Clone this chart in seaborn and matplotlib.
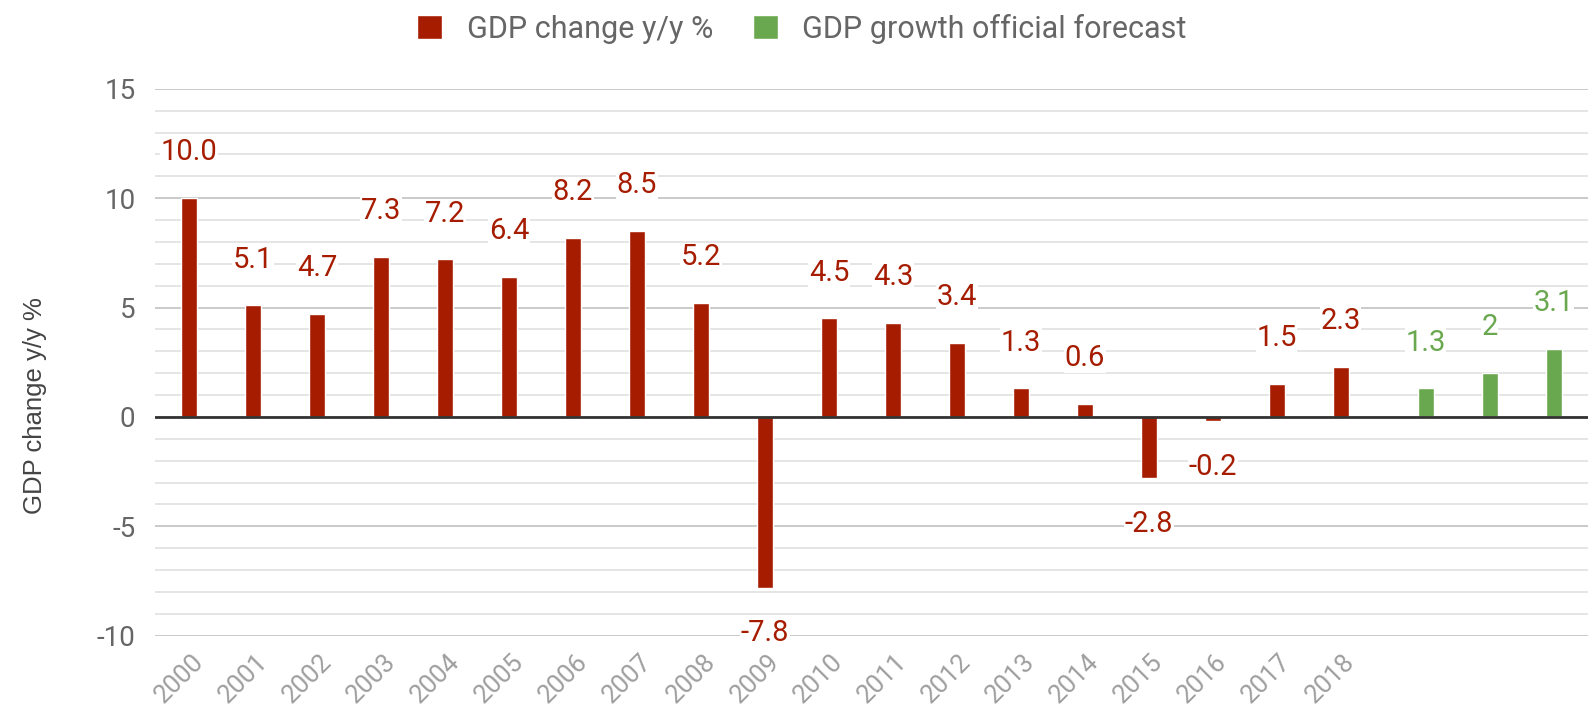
import pandas as pd
import matplotlib.pyplot as plt
import matplotlib.transforms as mtransforms
import seaborn as sns

# data
years = ["2000", "2001", "2002", "2003", "2004", "2005", "2006", "2007", "2008",
         "2009", "2010", "2011", "2012", "2013", "2014", "2015", "2016", "2017",
         "2018"]
gdp_change = [10.0, 5.1, 4.7, 7.3, 7.2, 6.4, 8.2, 8.5, 5.2,
              -7.8, 4.5, 4.3, 3.4, 1.3, 0.6, -2.8, -0.2, 1.5, 2.3]
forecast_keys = ["f1", "f2", "f3"]          # unlabelled forecast slots
forecast_values = [1.3, 2, 3.1]
tick_labels = years + ["", "", ""]

series_hist = "GDP change y/y %"
series_fc = "GDP growth official forecast"
red = "#a61c00"
green = "#6aa84f"

df = pd.concat([
    pd.DataFrame({"cat": years, "value": gdp_change, "series": series_hist}),
    pd.DataFrame({"cat": forecast_keys, "value": forecast_values, "series": series_fc}),
], ignore_index=True)
order = years + forecast_keys

sns.set_style("white")
plt.rcParams["font.family"] = ["Roboto", "DejaVu Sans"]
plt.rcParams["axes.unicode_minus"] = False

fig = plt.figure(figsize=(15.91, 7.14), dpi=100)
ax = fig.add_axes([0.0974, 0.1097, 0.9006, 0.7659])

sns.barplot(data=df, x="cat", y="value", hue="series", order=order,
            hue_order=[series_hist, series_fc], palette=[red, green],
            width=0.656, gap=0.24, dodge=True, saturation=1,
            errorbar=None, ax=ax)

# value labels above / below each bar
for cont, col, fmt in zip(ax.containers, [red, green], ["{:.1f}", "{:g}"]):
    texts = ax.bar_label(cont, fmt=fmt, padding=33, color=col, fontsize=21)
    for t in texts:
        t.set_va("center")
        t.set_bbox(dict(facecolor="white", edgecolor="none", pad=0.5))

ax.set_ylim(-10, 15)
ax.set_xlim(-0.7, 21.7)
ax.set_yticks(range(-10, 16, 5))
ax.set_yticks(range(-10, 16), minor=True)
ax.grid(axis="y", which="major", color="#c6c6c6", lw=1.3, zorder=0)
ax.grid(axis="y", which="minor", color="#e3e3e3", lw=1.3, zorder=0)
ax.set_axisbelow(True)
ax.axhline(0, color="#333333", lw=2, zorder=2)
for s in ax.spines.values():
    s.set_visible(False)

ax.set_xticks(range(len(order)))
ax.set_xticklabels(tick_labels, rotation=45, ha="right", va="center",
                   rotation_mode="anchor", color="#9e9e9e", fontsize=18.5)
shift = mtransforms.ScaledTranslation(11 / 100, 0, fig.dpi_scale_trans)
for lab in ax.get_xticklabels():
    lab.set_transform(lab.get_transform() + shift)
ax.tick_params(axis="x", length=0, pad=16)
ax.tick_params(axis="y", which="both", length=0, pad=14, labelsize=20,
               labelcolor="#666666")
ax.set_xlabel("")
ax.set_ylabel("GDP change y/y %", fontsize=18.5, color="#444444",
              family="Liberation Sans")
ax.yaxis.set_label_coords(-0.075, 0.42)

handles, labels = ax.get_legend_handles_labels()
ax.get_legend().remove()
fig.legend(handles, labels, loc="center", bbox_to_anchor=(0.504, 0.96), ncol=2,
           frameon=False, fontsize=22, labelcolor="#666666",
           handlelength=0.82, handleheight=0.82, handletextpad=0.8,
           columnspacing=1.3)

fig.savefig("out.png", dpi=100)
